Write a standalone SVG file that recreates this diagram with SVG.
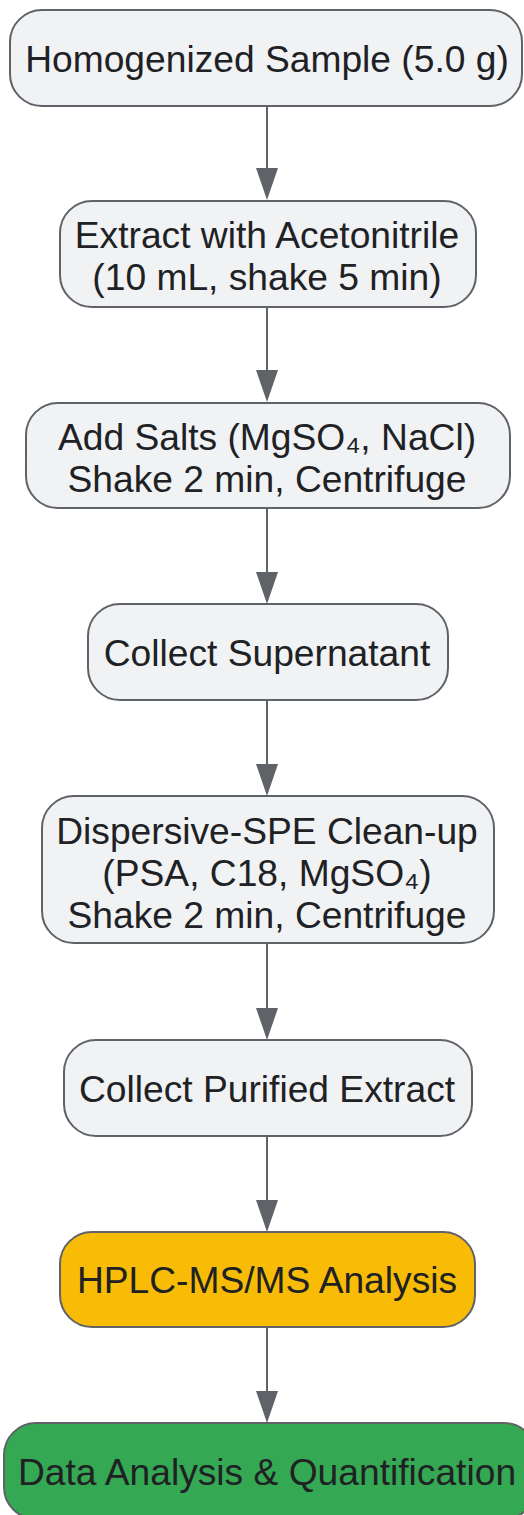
<svg xmlns="http://www.w3.org/2000/svg" width="524" height="1515" viewBox="0 0 524 1515">
<style>
.n{fill:#f1f2f4;stroke:#5f6368;stroke-width:2}
.y{fill:#f9bc06;stroke:#5f6368;stroke-width:2}
.g{fill:#34a853;stroke:#5f6368;stroke-width:2}
text{font-family:"Liberation Sans",Arial,sans-serif;font-size:37.2px;fill:#202124;text-anchor:middle}
.c{stroke:#5f6368;stroke-width:2;fill:none}
.h{fill:#5f6368}
</style>
<g id="connectors">
<line class="c" x1="267" y1="106" x2="267" y2="172"/><polygon class="h" points="256,168 278,168 267,200"/>
<line class="c" x1="267" y1="307" x2="267" y2="374"/><polygon class="h" points="256,370 278,370 267,402"/>
<line class="c" x1="267" y1="508" x2="267" y2="576"/><polygon class="h" points="256,572 278,572 267,604"/>
<line class="c" x1="267" y1="700" x2="267" y2="768"/><polygon class="h" points="256,764 278,764 267,796"/>
<line class="c" x1="267" y1="943" x2="267" y2="1012"/><polygon class="h" points="256,1008 278,1008 267,1040"/>
<line class="c" x1="267" y1="1136" x2="267" y2="1204"/><polygon class="h" points="256,1200 278,1200 267,1232"/>
<line class="c" x1="267" y1="1327" x2="267" y2="1395"/><polygon class="h" points="256,1391 278,1391 267,1423"/>
</g>
<g id="n1"><rect class="n" x="10" y="10" width="512" height="96" rx="32"/><text x="267" y="72">Homogenized Sample (5.0 g)</text></g>
<g id="n2"><rect class="n" x="60" y="201" width="416" height="106" rx="32"/><text x="267" y="248">Extract with Acetonitrile</text><text x="267" y="290">(10 mL, shake 5 min)</text></g>
<g id="n3"><rect class="n" x="26" y="403" width="484" height="105" rx="32"/><text x="267" y="450">Add Salts (MgSO₄, NaCl)</text><text x="267" y="492">Shake 2 min, Centrifuge</text></g>
<g id="n4"><rect class="n" x="88" y="604" width="360" height="96" rx="32"/><text x="267" y="666">Collect Supernatant</text></g>
<g id="n5"><rect class="n" x="42" y="796" width="452" height="147" rx="32"/><text x="267" y="844">Dispersive-SPE Clean-up</text><text x="267" y="886">(PSA, C18, MgSO₄)</text><text x="267" y="928">Shake 2 min, Centrifuge</text></g>
<g id="n6"><rect class="n" x="64" y="1040" width="408" height="96" rx="32"/><text x="267" y="1102">Collect Purified Extract</text></g>
<g id="n7"><rect class="y" x="60" y="1232" width="415" height="95" rx="32"/><text x="267" y="1293">HPLC-MS/MS Analysis</text></g>
<g id="n8"><rect class="g" x="4" y="1423" width="532" height="96" rx="32"/><text x="267" y="1485">Data Analysis &amp; Quantification</text></g>
</svg>
